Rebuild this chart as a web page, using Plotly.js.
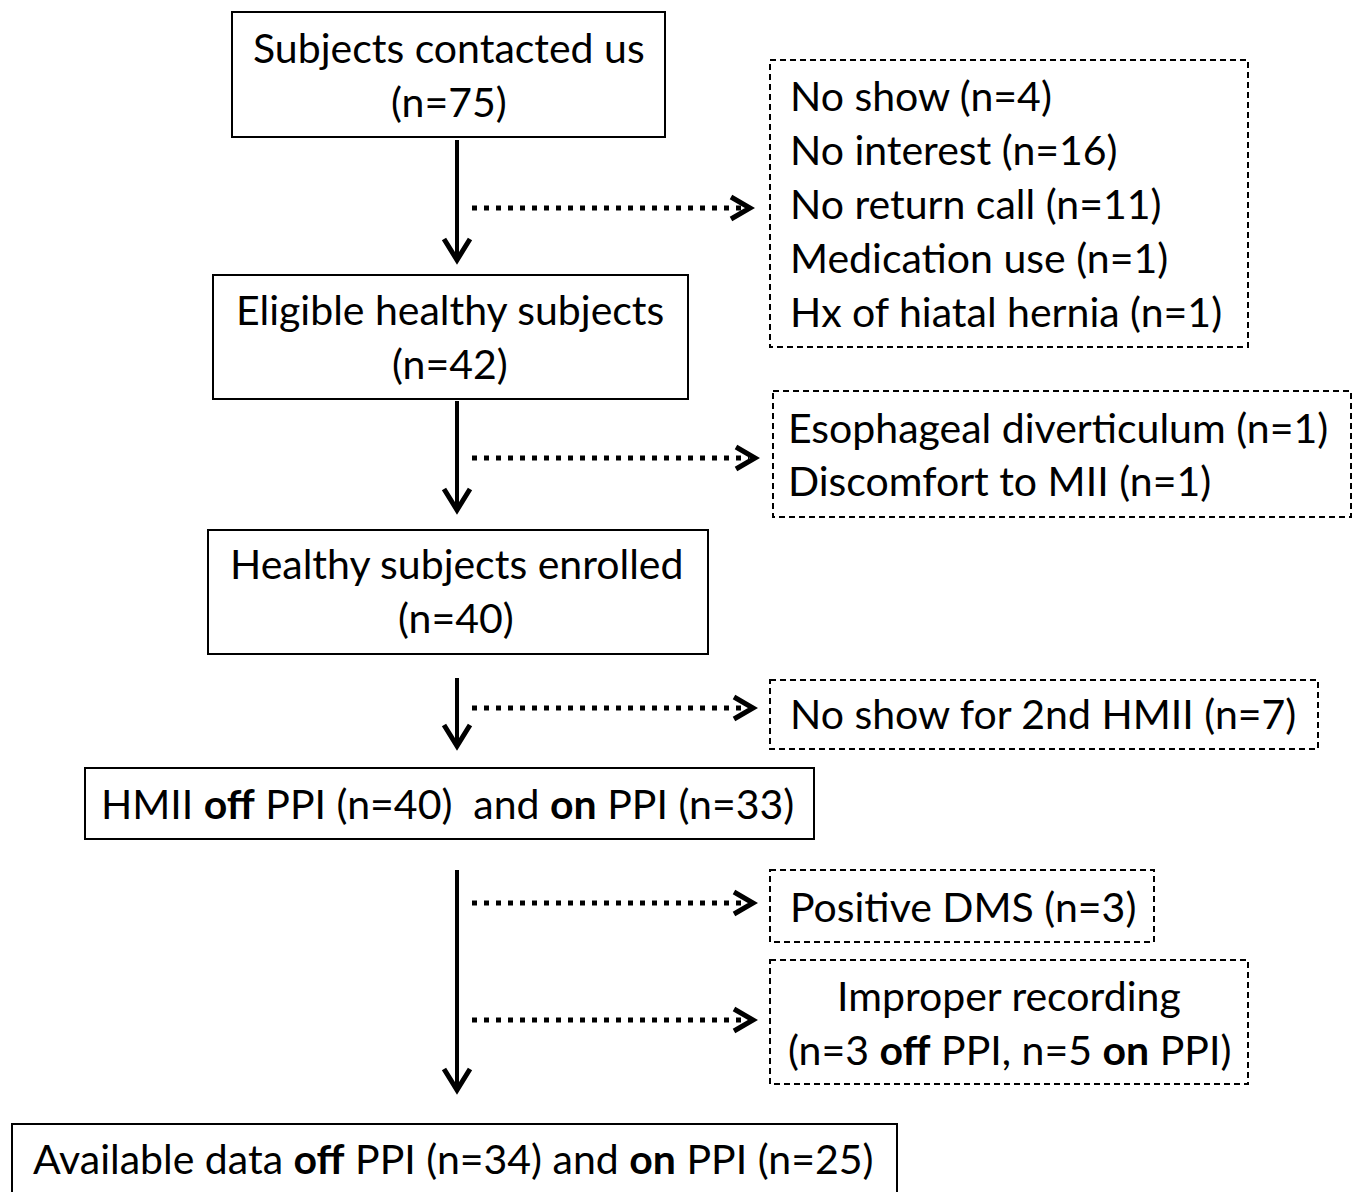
<!DOCTYPE html>
<html>
<head>
<meta charset="utf-8">
<script src="https://cdn.plot.ly/plotly-3.0.1.min.js"></script>
<style>html,body{margin:0;padding:0;background:#fff;}</style>
</head>
<body>
<div id="chart" style="width:1361px;height:1192px;"></div>
<script>
// ---- data ----
const stepLabels = ["Subjects contacted us", "Eligible healthy subjects", "Healthy subjects enrolled"];
const stepCounts = [75, 42, 40];
const hmiiOff = 40, hmiiOn = 33;
const finalOff = 34, finalOn = 25;
const excl1Labels = ["No show", "No interest", "No return call", "Medication use", "Hx of hiatal hernia"];
const excl1Counts = [4, 16, 11, 1, 1];
const excl2Labels = ["Esophageal diverticulum", "Discomfort to MII"];
const excl2Counts = [1, 1];
const excl3Label = "No show for 2nd HMII";
const excl3Count = 7;
const excl4Label = "Positive DMS";
const excl4Count = 3;
const excl5Title = "Improper recording";
const excl5Off = 3, excl5On = 5;

// ---- layout geometry (pixels, y downward) ----
const FONT = "Lato, 'Liberation Sans', sans-serif";
const FS = 41;
const solidBoxes = [
  [232, 12, 665, 137],
  [213, 275, 688, 399],
  [208, 530, 708, 654],
  [85, 768, 814, 839],
  [12, 1124, 897, 1210]
];
const dashBoxes = [
  [770, 60, 1248, 347],
  [773, 391, 1351, 517],
  [770, 680, 1318, 749],
  [770, 870, 1154, 942],
  [770, 960, 1248, 1084]
];
const vArrows = [[457, 140, 262], [457, 401, 512], [457, 678, 748], [457, 870, 1092]];
const hArrows = [[472, 752, 208], [472, 757, 458], [472, 755, 708], [472, 755, 903], [472, 755, 1020]];

const shapes = [];
const annotations = [];
solidBoxes.forEach(b => shapes.push({type:'rect', xref:'x', yref:'y', x0:b[0], y0:b[1], x1:b[2], y1:b[3], line:{color:'#000', width:2}}));
dashBoxes.forEach(b => shapes.push({type:'rect', xref:'x', yref:'y', x0:b[0], y0:b[1], x1:b[2], y1:b[3], line:{color:'#000', width:2, dash:'6px,4px'}}));
vArrows.forEach(a => {
  shapes.push({type:'line', xref:'x', yref:'y', x0:a[0], y0:a[1], x1:a[0], y1:a[2]-3, line:{color:'#000', width:4}});
  shapes.push({type:'path', xref:'x', yref:'y', path:`M${a[0]-13},${a[2]-23} L${a[0]},${a[2]-2} L${a[0]+13},${a[2]-23}`, line:{color:'#000', width:5}});
});
hArrows.forEach(a => {
  shapes.push({type:'line', xref:'x', yref:'y', x0:a[0], y0:a[2], x1:a[1]-8, y1:a[2], line:{color:'#000', width:5, dash:'5px,7px'}});
  shapes.push({type:'path', xref:'x', yref:'y', path:`M${a[1]-21},${a[2]-11} L${a[1]-2},${a[2]} L${a[1]-21},${a[2]+11}`, line:{color:'#000', width:5}});
});

function txt(x, y, text, anchor) {
  annotations.push({xref:'x', yref:'y', x:x, y:y, text:text, showarrow:false, xanchor:anchor||'center', yanchor:'middle', font:{family:FONT, size:FS, color:'#000'}});
}
const stepX = [449, 450, 456];
const stepY = [47, 309, 563];
stepLabels.forEach((l, i) => {
  txt(stepX[i], stepY[i], l);
  txt(stepX[i], stepY[i] + 54, "(n=" + stepCounts[i] + ")");
});
txt(447, 803, "HMII <b>off</b> PPI (n=" + hmiiOff + ")  and <b>on</b> PPI (n=" + hmiiOn + ")");
txt(453, 1158, "Available data <b>off</b> PPI (n=" + finalOff + ") and <b>on</b> PPI (n=" + finalOn + ")");
excl1Labels.forEach((l, i) => txt(788, 95 + 54 * i, l + " (n=" + excl1Counts[i] + ")", 'left'));
excl2Labels.forEach((l, i) => txt(786, 427 + 53 * i, l + " (n=" + excl2Counts[i] + ")", 'left'));
txt(788, 713, excl3Label + " (n=" + excl3Count + ")", 'left');
txt(788, 906, excl4Label + " (n=" + excl4Count + ")", 'left');
txt(1009, 995, excl5Title);
txt(1009, 1049, "(n=" + excl5Off + " <b>off</b> PPI, n=" + excl5On + " <b>on</b> PPI)");

const layout = {
  width: 1361, height: 1192,
  margin: {l:0, r:0, t:0, b:0},
  paper_bgcolor: '#fff', plot_bgcolor: '#fff',
  xaxis: {range:[0, 1361], visible:false, fixedrange:true},
  yaxis: {range:[1192, 0], visible:false, fixedrange:true},
  showlegend: false,
  shapes: shapes,
  annotations: annotations
};
Plotly.newPlot('chart', [{x:[], y:[], type:'scatter', mode:'markers', hoverinfo:'skip'}], layout, {staticPlot:true});
</script>
</body>
</html>
